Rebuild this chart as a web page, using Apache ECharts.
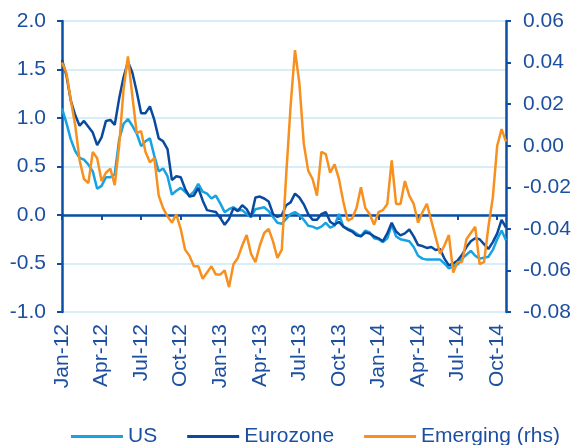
<!DOCTYPE html>
<html><head><meta charset="utf-8">
<script src="https://cdn.jsdelivr.net/npm/echarts@6/dist/echarts.min.js"></script>
<style>html,body{margin:0;padding:0;background:#fff}#c{width:574px;height:445px}</style>
</head><body><div id="c"></div>
<script>
const tickLabels = ['Jan-12','Apr-12','Jul-12','Oct-12','Jan-13','Apr-13','Jul-13','Oct-13','Jan-14','Apr-14','Jul-14','Oct-14'];
const monthNames = ['Jan','Feb','Mar','Apr','May','Jun','Jul','Aug','Sep','Oct','Nov','Dec'];
const stepsPerMonth = 3;

const us = [1.10,0.95,0.78,0.66,0.59,0.57,0.52,0.45,0.27,0.30,
  0.39,0.39,0.42,0.78,0.94,0.99,0.92,0.84,0.71,0.76,
  0.79,0.61,0.45,0.48,0.40,0.21,0.25,0.28,0.24,0.20,
  0.24,0.32,0.24,0.22,0.17,0.20,0.12,0.03,0.06,0.08,
  0.05,0.05,0.01,-0.02,0.06,0.07,0.08,0.04,-0.02,-0.08,
  -0.09,-0.04,0.01,0.03,0.00,-0.05,-0.11,-0.12,-0.14,-0.12,
  -0.08,-0.13,-0.11,0.01,-0.12,-0.14,-0.16,-0.19,-0.22,-0.16,
  -0.18,-0.24,-0.25,-0.28,-0.24,-0.10,-0.22,-0.25,-0.26,-0.27,
  -0.33,-0.42,-0.45,-0.46,-0.46,-0.46,-0.46,-0.50,-0.55,-0.53,
  -0.51,-0.45,-0.41,-0.37,-0.42,-0.45,-0.44,-0.43,-0.36,-0.25,
  -0.16,-0.26];

const eurozone = [1.60,1.44,1.18,1.03,0.92,0.97,0.91,0.85,0.72,0.80,
  0.97,0.98,0.93,1.20,1.42,1.58,1.47,1.27,1.05,1.05,
  1.12,0.98,0.79,0.76,0.68,0.36,0.40,0.39,0.27,0.19,
  0.20,0.28,0.15,0.05,0.04,0.03,-0.03,-0.10,-0.04,0.07,
  0.04,0.10,0.06,-0.02,0.18,0.19,0.17,0.14,0.01,-0.02,
  0.00,0.10,0.13,0.22,0.18,0.11,0.01,-0.05,-0.05,0.01,
  0.03,-0.07,-0.10,-0.07,-0.12,-0.15,-0.17,-0.21,-0.22,-0.18,
  -0.19,-0.22,-0.24,-0.27,-0.19,-0.08,-0.17,-0.21,-0.19,-0.15,
  -0.22,-0.31,-0.32,-0.34,-0.33,-0.36,-0.35,-0.45,-0.52,-0.50,
  -0.47,-0.41,-0.33,-0.27,-0.24,-0.25,-0.30,-0.35,-0.28,-0.19,
  -0.05,-0.13];

const emerging = [0.040,0.035,0.022,0.010,-0.007,-0.016,-0.018,-0.003,-0.006,-0.017,
  -0.013,-0.011,-0.019,0.000,0.027,0.043,0.024,0.006,0.007,-0.003,
  -0.008,-0.006,-0.024,-0.030,-0.034,-0.037,-0.033,-0.040,-0.050,-0.053,
  -0.058,-0.058,-0.064,-0.061,-0.058,-0.062,-0.062,-0.060,-0.068,-0.057,
  -0.054,-0.048,-0.043,-0.052,-0.056,-0.048,-0.042,-0.040,-0.046,-0.054,
  -0.050,-0.014,0.019,0.046,0.030,0.001,-0.012,-0.016,-0.024,-0.003,
  -0.004,-0.013,-0.009,-0.016,-0.027,-0.036,-0.035,-0.030,-0.020,-0.030,
  -0.033,-0.038,-0.032,-0.031,-0.028,-0.007,-0.028,-0.028,-0.017,-0.024,
  -0.028,-0.037,-0.032,-0.028,-0.036,-0.044,-0.052,-0.048,-0.043,-0.061,
  -0.056,-0.056,-0.045,-0.042,-0.039,-0.057,-0.056,-0.039,-0.025,0.000,
  0.008,0.002];

const categories = [];
for (let y = 12; y <= 14; y++) {
  for (const m of monthNames) {
    for (let k = 1; k <= stepsPerMonth; k++) {
      if (categories.length < us.length) categories.push(m + '-' + y + ' #' + k);
    }
  }
}

const axisColor = '#0b4ea6';
const labelColor = '#1c4f9f';
const font = 'Liberation Sans, Arial, sans-serif';
const fs = 21;
const fmt = (d) => (v) => (Math.abs(v) < 1e-9 ? 0 : v).toFixed(d);

const chart = echarts.init(document.getElementById('c'), null, {renderer: 'canvas'});
chart.setOption({
  animation: false,
  textStyle: {fontFamily: font},
  grid: {left: 62, right: 68, top: 21, bottom: 133, containLabel: false},
  legend: {
    top: 421, left: 66, icon: 'rect', itemWidth: 52, itemHeight: 3, itemGap: 30,
    textStyle: {fontSize: fs, color: labelColor, fontFamily: font},
    data: ['US', 'Eurozone', 'Emerging (rhs)']
  },
  xAxis: [
    {
      type: 'category', data: categories, boundaryGap: false, position: 'bottom',
      axisLine: {show: false}, axisTick: {show: false}, splitLine: {show: false},
      axisLabel: {
        interval: stepsPerMonth * 3 - 1, rotate: 90, margin: 12, fontSize: fs,
        color: labelColor, fontFamily: font,
        formatter: (v, i) => tickLabels[i / (stepsPerMonth * 3)] || ''
      }
    },
    {
      type: 'category', data: categories, boundaryGap: false, position: 'top',
      axisLine: {show: true, onZero: true, onZeroAxisIndex: 0, lineStyle: {color: axisColor, width: 2.5}},
      axisTick: {show: true, inside: true, interval: stepsPerMonth * 3 - 1, length: 5, lineStyle: {color: axisColor, width: 2}},
      axisLabel: {show: false}, splitLine: {show: false}
    }
  ],
  yAxis: [
    {
      type: 'value', min: -1, max: 2, interval: 0.5, position: 'left',
      axisLine: {show: true, lineStyle: {color: axisColor, width: 2.5}},
      axisTick: {show: true, length: 5, lineStyle: {color: axisColor, width: 2}},
      axisLabel: {formatter: fmt(1), fontSize: fs, color: labelColor, margin: 16, fontFamily: font},
      splitLine: {show: true, lineStyle: {color: '#c8e7f8', width: 1.5}}
    },
    {
      type: 'value', min: -0.08, max: 0.06, interval: 0.02, position: 'right',
      axisLine: {show: true, lineStyle: {color: axisColor, width: 2.5}},
      axisTick: {show: true, length: 5, lineStyle: {color: axisColor, width: 2}},
      axisLabel: {formatter: fmt(2), fontSize: fs, color: labelColor, margin: 17, fontFamily: font},
      splitLine: {show: false}
    }
  ],
  series: [
    {name: 'US', type: 'line', data: us, xAxisIndex: 0, yAxisIndex: 0, symbol: 'none',
      lineStyle: {color: '#17a2e2', width: 2.5}, itemStyle: {color: '#17a2e2'}},
    {name: 'Eurozone', type: 'line', data: eurozone, xAxisIndex: 0, yAxisIndex: 0, symbol: 'none',
      lineStyle: {color: '#0a4a9e', width: 2.5}, itemStyle: {color: '#0a4a9e'}},
    {name: 'Emerging (rhs)', type: 'line', data: emerging, xAxisIndex: 0, yAxisIndex: 1, symbol: 'none',
      lineStyle: {color: '#f7901e', width: 2.5}, itemStyle: {color: '#f7901e'}}
  ]
});
</script></body></html>
